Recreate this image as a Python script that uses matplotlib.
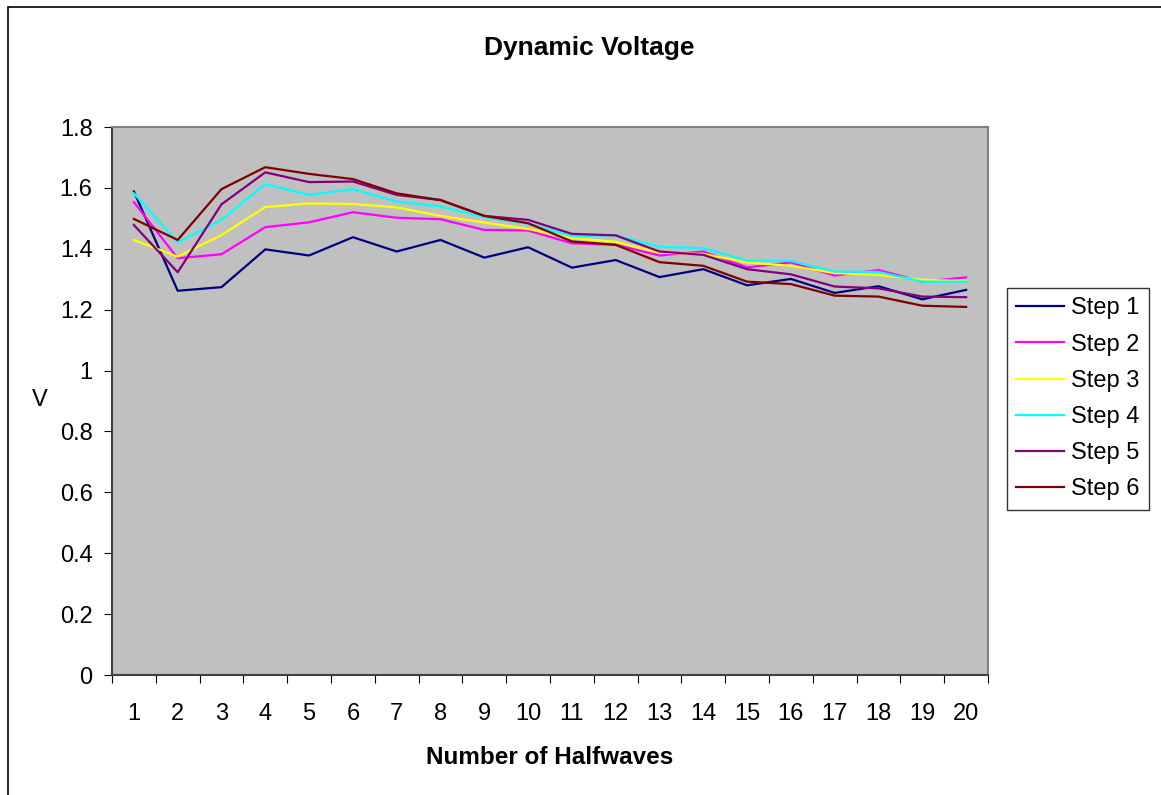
import numpy as np
import matplotlib
matplotlib.use("Agg")
import matplotlib.pyplot as plt
from matplotlib.patches import Rectangle

plt.rcParams["font.family"] = ["Liberation Sans", "DejaVu Sans"]

halfwaves = list(range(1, 21))
step1 = [1.588, 1.262, 1.274, 1.398, 1.378, 1.438, 1.391, 1.429, 1.371, 1.405,
         1.338, 1.363, 1.307, 1.333, 1.280, 1.301, 1.255, 1.277, 1.234, 1.265]
step2 = [1.553, 1.369, 1.382, 1.471, 1.487, 1.520, 1.502, 1.497, 1.462, 1.460,
         1.418, 1.413, 1.378, 1.391, 1.339, 1.355, 1.312, 1.330, 1.292, 1.306]
step3 = [1.429, 1.374, 1.445, 1.537, 1.549, 1.547, 1.536, 1.508, 1.486, 1.465,
         1.435, 1.423, 1.387, 1.383, 1.355, 1.344, 1.320, 1.314, 1.298, 1.294]
step4 = [1.582, 1.421, 1.495, 1.612, 1.577, 1.596, 1.555, 1.539, 1.504, 1.482,
         1.442, 1.444, 1.407, 1.402, 1.361, 1.360, 1.325, 1.324, 1.292, 1.292]
step5 = [1.478, 1.323, 1.546, 1.651, 1.619, 1.621, 1.577, 1.560, 1.508, 1.495,
         1.449, 1.444, 1.391, 1.380, 1.333, 1.316, 1.276, 1.270, 1.243, 1.241]
step6 = [1.498, 1.429, 1.596, 1.668, 1.646, 1.629, 1.582, 1.560, 1.508, 1.484,
         1.424, 1.413, 1.356, 1.344, 1.292, 1.284, 1.246, 1.243, 1.213, 1.209]

series = [step1, step2, step3, step4, step5, step6]
labels = ["Step 1", "Step 2", "Step 3", "Step 4", "Step 5", "Step 6"]
colors = ["#000080", "#FF00FF", "#FFFF00", "#00FFFF", "#800080", "#800000"]

fig = plt.figure(figsize=(11.61, 7.95), dpi=100)
ax = fig.add_axes([112 / 1161, 1 - 675 / 795, 876 / 1161, 548 / 795])
ax.set_facecolor("#C0C0C0")

for vals, lab, col in zip(series, labels, colors):
    ax.plot(halfwaves, vals, color=col, lw=1.6, label=lab)

ax.set_xlim(0.5, 20.5)
ax.set_ylim(0, 1.8)
ax.set_yticks(np.arange(0, 1.81, 0.2))
ax.set_yticklabels(["0", "0.2", "0.4", "0.6", "0.8", "1", "1.2", "1.4", "1.6", "1.8"])
# category axis: ticks between categories, labels in the middle
ax.set_xticks(np.arange(0.5, 20.6, 1))
ax.set_xticklabels([])
ax.set_xticks(halfwaves, minor=True)
ax.set_xticklabels([str(h) for h in halfwaves], minor=True)
ax.tick_params(axis="x", which="major", direction="out", length=6, color="black")
ax.tick_params(axis="x", which="minor", length=0, pad=20, labelsize=17)
ax.tick_params(axis="y", direction="out", length=6, color="black", pad=8, labelsize=17)

for s in ["top", "right"]:
    ax.spines[s].set_color("#808080")
    ax.spines[s].set_linewidth(1.5)
for s in ["left", "bottom"]:
    ax.spines[s].set_color("#404040")
    ax.spines[s].set_linewidth(1.5)

ax.set_xlabel("Number of Halfwaves", fontsize=17.5, fontweight="bold")
ax.xaxis.set_label_coords(0.5, -(757 - 675) / 548)
ax.xaxis.label.set_va("center")
ax.set_ylabel("V", fontsize=17, rotation=0, va="center", ha="center")
ax.yaxis.set_label_coords(-(112 - 40) / 876, (675 - 400) / 548)
fig.text(589 / 1161, 1 - 48 / 795, "Dynamic Voltage", ha="center", va="center",
         fontsize=19, fontweight="bold")

leg = ax.legend(loc="upper left", bbox_to_anchor=(1007 / 1161, 1 - 288 / 795),
                bbox_transform=fig.transFigure, fontsize=17,
                frameon=True, fancybox=False, edgecolor="black", handlelength=2.0,
                handletextpad=0.3, borderpad=0.4, labelspacing=0.6, borderaxespad=0)
leg.get_frame().set_linewidth(1.0)

# outer chart-area border
fig.patches.append(Rectangle((8 / 1161, -0.1), 1.2, 1 - 7 / 795 + 0.1,
                             transform=fig.transFigure, fill=False,
                             edgecolor="black", lw=1.2))

fig.savefig("out.png", dpi=100)
